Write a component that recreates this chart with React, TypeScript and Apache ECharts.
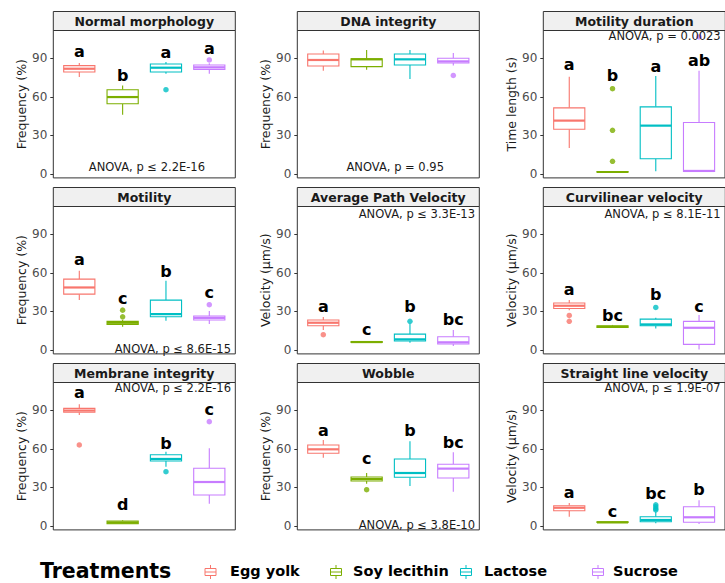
import React, { useEffect, useRef } from "react";
import * as echarts from "echarts";

const FONT = "DejaVu Sans";

const treatments = ["Egg yolk", "Soy lecithin", "Lactose", "Sucrose"];
const colors = ["#F8766D", "#7CAE00", "#00BFC4", "#C77CFF"];

const panelTitles = [
  "Normal morphology", "DNA integrity", "Motility duration",
  "Motility", "Average Path Velocity", "Curvilinear velocity",
  "Membrane integrity", "Wobble", "Straight line velocity",
];
const yTitles = [
  "Frequency (%)", "Frequency (%)", "Time length (s)",
  "Frequency (%)", "Velocity (µm/s)", "Velocity (µm/s)",
  "Frequency (%)", "Frequency (%)", "Velocity (µm/s)",
];
const yTicks = [0, 30, 60, 90];

// box stats: [lower whisker, Q1, median, Q3, upper whisker] per treatment
const normalMorphologyBox = [[75.4, 79.3, 81.8, 84.2, 86.3], [46, 54.6, 59.8, 65.5, 68.8], [78, 79.3, 82.6, 85.5, 87], [78, 81.3, 82.9, 84.7, 86]];
const normalMorphologyOut = [[], [], [65.5], [88.6]];
const normalMorphologyLetters = ["a", "b", "a", "a"];
const normalMorphologyLetterY = [95.5, 76.5, 94.2, 97.6];

const dnaBox = [[80.3, 83.9, 88.6, 93.3, 95.9], [81, 83.4, 89.1, 89.6, 96.4], [73.8, 84.7, 89.1, 93.3, 96.4], [84.4, 86.3, 87.5, 89.9, 94]];
const dnaOut = [[], [], [], [76.6]];
const dnaLetters = ["", "", "", ""];
const dnaLetterY = [0, 0, 0, 0];

const motDurBox = [[20.3, 34.8, 41.5, 51.4, 75.6], [1.5, 1.5, 1.6, 2, 2], [2.1, 11.9, 37.6, 52.2, 76.1], [1.5, 2.0, 2.4, 40, 80.3]];
const motDurOut = [[], [66.3, 34, 9.9], [], [106.5]];
const motDurLetters = ["a", "b", "a", "ab"];
const motDurLetterY = [85, 76.4, 83.6, 88.3];

const motilityBox = [[38.8, 43.4, 48.6, 55.1, 61.5], [18.1, 19.9, 21.2, 22.3, 23.5], [22.7, 25.8, 27.9, 38.8, 53.8], [20.2, 23.3, 25, 26.4, 30.3]];
const motilityOut = [[], [31, 25.8], [], [35.2]];
const motilityLetters = ["a", "c", "b", "c"];
const motilityLetterY = [70.4, 40.1, 61.3, 44.5];

const apvBox = [[15.5, 18.9, 21.2, 23.3, 25.6], [5.5, 5.8, 6.2, 6.6, 7], [5.7, 7, 8.3, 12.4, 20.5], [3.1, 4.7, 6, 10.3, 15.5]];
const apvOut = [[11.9], [], [22.3], []];
const apvLetters = ["a", "c", "b", "bc"];
const apvLetterY = [33.6, 16, 33.6, 23.8];

const vclBox = [[31, 32.3, 34.4, 36.5, 38.8], [17.2, 17.5, 18.1, 18.8, 19.5], [16.8, 18.9, 19.9, 24, 25], [0.5, 4.4, 17.3, 22.3, 27.2]];
const vclOut = [[26.9, 22.3], [], [33.1], []];
const vclLetters = ["a", "bc", "b", "c"];
const vclLetterY = [47.1, 27.2, 43.2, 33.6];

const membraneBox = [[86.3, 88.4, 89.7, 91.4, 94.6], [1.5, 1.8, 2.6, 3.8, 4.5], [46.1, 50.5, 52.1, 55.4, 57.8], [17.3, 24.1, 34.2, 44.9, 60.4]];
const membraneOut = [[63], [], [42.2], [81.1]];
const membraneLetters = ["a", "d", "b", "c"];
const membraneLetterY = [103.6, 17.1, 64, 90.2];

const wobbleBox = [[53.1, 56.5, 59.6, 63, 66.9], [32.9, 35, 36.5, 38.1, 41.2], [31.1, 37.9, 41.2, 52.1, 65.8], [26.7, 37.3, 44.6, 48, 57.3]];
const wobbleOut = [[], [28.2], [], []];
const wobbleLetters = ["a", "c", "b", "bc"];
const wobbleLetterY = [74.6, 52.1, 74.6, 65.1];

const vslBox = [[7.2, 11.9, 14.2, 15.8, 17.9], [2.5, 2.7, 2.9, 3.2, 3.4], [2.1, 3.3, 4.7, 7.2, 11], [1.6, 2.9, 6.8, 15, 20]];
const vslOut = [[], [], [16.5, 15, 13.5, 12.5], []];
const vslLetters = ["a", "c", "bc", "b"];
const vslLetterY = [26.2, 11, 25.4, 28];

// ANOVA labels: text, x, y, align
const anovaTexts = [
  "ANOVA, p ≤ 2.2E-16", "ANOVA, p = 0.95", "ANOVA, p = 0.0023",
  "ANOVA, p ≤ 8.6E-15", "ANOVA, p ≤ 3.3E-13", "ANOVA, p ≤ 8.1E-11",
  "ANOVA, p ≤ 2.2E-16", "ANOVA, p ≤ 3.8E-10", "ANOVA, p ≤ 1.9E-07",
];
const anovaX = [2.56, 2.66, 4.5, 4.5, 4.5, 4.5, 4.5, 4.5, 4.5];
const anovaY = [5.7, 5.7, 107, 0.5, 106, 106, 107, 0.8, 107];
const anovaAlign = ["center", "center", "right", "right", "right", "right", "right", "right", "right"];

const panelBoxes = [normalMorphologyBox, dnaBox, motDurBox, motilityBox, apvBox, vclBox, membraneBox, wobbleBox, vslBox];
const panelOut = [normalMorphologyOut, dnaOut, motDurOut, motilityOut, apvOut, vclOut, membraneOut, wobbleOut, vslOut];
const panelLetters = [normalMorphologyLetters, dnaLetters, motDurLetters, motilityLetters, apvLetters, vclLetters, membraneLetters, wobbleLetters, vslLetters];
const panelLetterY = [normalMorphologyLetterY, dnaLetterY, motDurLetterY, motilityLetterY, apvLetterY, vclLetterY, membraneLetterY, wobbleLetterY, vslLetterY];

const colLefts = [53.3, 297.3, 543.3];
const rowTops = [30.5, 206.5, 382.5];
const PANEL_W = 182;
const PANEL_H = 147.4;
const STRIP_H = 19;
const BOX_HALF = 0.36;

export default function App() {
  const ref = useRef<HTMLDivElement>(null);
  useEffect(() => {
    const chart = echarts.init(ref.current as HTMLDivElement, null, { renderer: "svg" });
    const grids: any[] = [];
    const xAxes: any[] = [];
    const yAxes: any[] = [];
    const series: any[] = [];
    const graphics: any[] = [];

    for (let k = 0; k < 9; k++) {
      const left = colLefts[k % 3];
      const top = rowTops[Math.floor(k / 3)];
      grids.push({
        left, top, width: PANEL_W, height: PANEL_H,
        show: true, borderColor: "#333333", borderWidth: 1, backgroundColor: "transparent",
      });
      xAxes.push({ type: "value", gridIndex: k, min: 0.4, max: 4.6, show: false });
      yAxes.push({
        type: "value", gridIndex: k, min: -3, max: 111.5,
        axisLine: { show: false }, splitLine: { show: false },
        axisTick: { show: true, length: 3, lineStyle: { color: "#333333" }, customValues: yTicks },
        axisLabel: { customValues: yTicks, fontSize: 12, color: "#4D4D4D", margin: 6, fontFamily: FONT },
        name: yTitles[k], nameLocation: "middle", nameGap: 25, nameRotate: 90,
        nameTextStyle: { fontSize: 12.5, color: "#1A1A1A", fontFamily: FONT },
      });

      const boxes = panelBoxes[k];
      series.push({
        type: "custom", xAxisIndex: k, yAxisIndex: k, clip: false,
        data: boxes.map((b, i) => [i + 1, ...b]),
        renderItem: (params: any, api: any) => {
          const x = api.value(0);
          const lo = api.coord([x, api.value(1)]);
          const q1 = api.coord([x, api.value(2)]);
          const md = api.coord([x, api.value(3)]);
          const q3 = api.coord([x, api.value(4)]);
          const hi = api.coord([x, api.value(5)]);
          const l = api.coord([x - BOX_HALF, 0])[0];
          const r = api.coord([x + BOX_HALF, 0])[0];
          const c = colors[params.dataIndex];
          return {
            type: "group",
            children: [
              { type: "line", shape: { x1: lo[0], y1: lo[1], x2: q1[0], y2: q1[1] }, style: { stroke: c, lineWidth: 1.1 } },
              { type: "line", shape: { x1: q3[0], y1: q3[1], x2: hi[0], y2: hi[1] }, style: { stroke: c, lineWidth: 1.1 } },
              { type: "rect", shape: { x: l, y: q3[1], width: r - l, height: Math.max(q1[1] - q3[1], 0.5) }, style: { fill: "#FFFFFF", stroke: c, lineWidth: 1.1 } },
              { type: "line", shape: { x1: l, y1: md[1], x2: r, y2: md[1] }, style: { stroke: c, lineWidth: 2.2 } },
            ],
          };
        },
      });

      const outData: any[] = [];
      panelOut[k].forEach((arr, i) => arr.forEach((v) => outData.push({ value: [i + 1, v], itemStyle: { color: colors[i] } })));
      series.push({
        type: "scatter", xAxisIndex: k, yAxisIndex: k, symbol: "circle", symbolSize: 5.5,
        data: outData, z: 3,
      });

      const letters = panelLetters[k];
      const ly = panelLetterY[k];
      series.push({
        type: "custom", xAxisIndex: k, yAxisIndex: k, clip: false, z: 4,
        data: letters.map((_, i) => [i + 1, ly[i]]),
        renderItem: (params: any, api: any) => {
          const p = api.coord([api.value(0), api.value(1)]);
          return {
            type: "text", x: p[0], y: p[1],
            style: { text: letters[params.dataIndex], fill: "#000000", fontSize: 16, fontWeight: "bold", fontFamily: FONT, align: "center", verticalAlign: "middle" },
          };
        },
      });

      const atext = anovaTexts[k];
      const aalign = anovaAlign[k];
      series.push({
        type: "custom", xAxisIndex: k, yAxisIndex: k, clip: false, z: 4,
        data: [[anovaX[k], anovaY[k]]],
        renderItem: (params: any, api: any) => {
          const p = api.coord([api.value(0), api.value(1)]);
          return {
            type: "text", x: p[0], y: p[1],
            style: { text: atext, fill: "#1A1A1A", fontSize: 11.5, fontFamily: FONT, align: aalign, verticalAlign: "middle" },
          };
        },
      });

      graphics.push({
        type: "rect", shape: { x: left, y: top - STRIP_H, width: PANEL_W, height: STRIP_H },
        style: { fill: "#F0F0F0", stroke: "#333333", lineWidth: 1 }, z: 10,
      });
      graphics.push({
        type: "text", x: left + PANEL_W / 2, y: top - STRIP_H / 2 + 0.5,
        style: { text: panelTitles[k], fill: "#1A1A1A", fontSize: 12.5, fontWeight: "bold", fontFamily: FONT, align: "center", verticalAlign: "middle" },
        z: 11,
      });
    }

    // legend
    const legendY = 571;
    graphics.push({
      type: "text", x: 40, y: legendY,
      style: { text: "Treatments", fill: "#000000", fontSize: 20.5, fontWeight: "bold", fontFamily: FONT, align: "left", verticalAlign: "middle" },
    });
    const keyX = [210.5, 336, 466, 598];
    const textX = [230, 353, 484, 613];
    treatments.forEach((t, i) => {
      const c = colors[i];
      const cx = keyX[i];
      const ky = legendY + 1;
      graphics.push({ type: "line", shape: { x1: cx, y1: ky - 7, x2: cx, y2: ky + 7 }, style: { stroke: c, lineWidth: 1 } });
      graphics.push({ type: "rect", shape: { x: cx - 5.5, y: ky - 3.5, width: 11, height: 7 }, style: { fill: "#FFFFFF", stroke: c, lineWidth: 1 } });
      graphics.push({ type: "line", shape: { x1: cx - 5.5, y1: ky, x2: cx + 5.5, y2: ky }, style: { stroke: c, lineWidth: 1 } });
      graphics.push({
        type: "text", x: textX[i], y: legendY,
        style: { text: t, fill: "#000000", fontSize: 14.5, fontWeight: "bold", fontFamily: FONT, align: "left", verticalAlign: "middle" },
      });
    });

    chart.setOption({
      animation: false,
      backgroundColor: "#FFFFFF",
      grid: grids,
      xAxis: xAxes,
      yAxis: yAxes,
      series,
      graphic: graphics,
    });
    return () => chart.dispose();
  }, []);
  return <div ref={ref} style={{ position: "absolute", left: 0, top: 0, width: 725, height: 583 }} />;
}
